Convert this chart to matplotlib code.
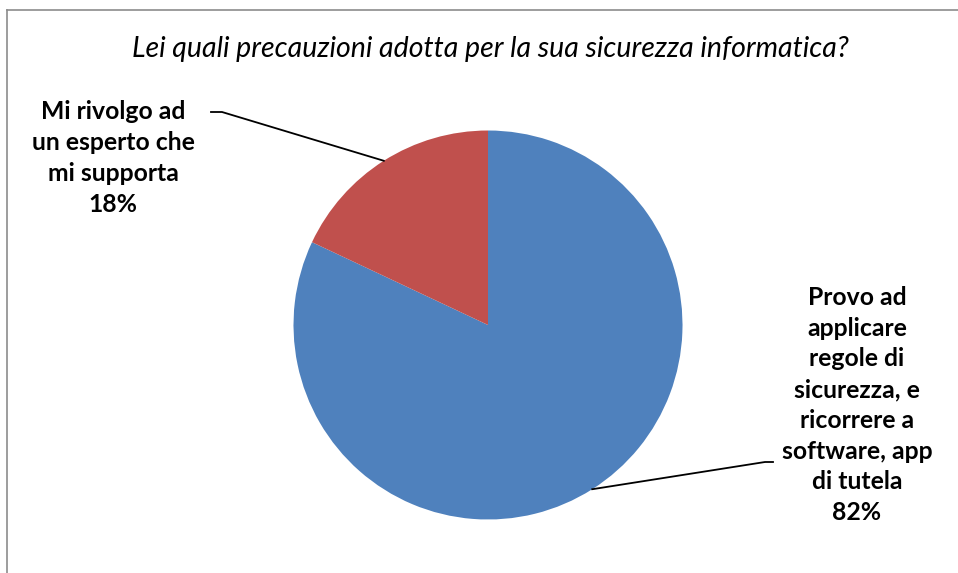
import numpy as np
import matplotlib
matplotlib.use("Agg")
import matplotlib.pyplot as plt
from matplotlib.lines import Line2D

title = "Lei quali precauzioni adotta per la sua sicurezza informatica?"
labels = ["Provo ad\napplicare\nregole di\nsicurezza, e\nricorrere a\nsoftware, app\ndi tutela",
          "Mi rivolgo ad\nun esperto che\nmi supporta"]
values = [82, 18]
colors = ["#4F81BD", "#C0504D"]

W, H = 958, 573
fig = plt.figure(figsize=(W / 100, H / 100), dpi=100)
plt.rcParams['font.family'] = ['Lato', 'DejaVu Sans']


def px(x, y):
    # image pixel -> figure fraction
    return x / W, 1 - y / H


# chart frame (left and top edges visible)
fig.add_artist(Line2D([7 / W, 7 / W], [0, 1 - 10 / H], color="#8c8c8c", lw=1.2))
fig.add_artist(Line2D([7 / W, 1], [1 - 10 / H, 1 - 10 / H], color="#8c8c8c", lw=1.2))

# pie axes centred at (488, 325), radius ~194 px
cx, cy, r = 488, 325, 194.5
ax = fig.add_axes([(cx - r) / W, (H - cy - r) / H, 2 * r / W, 2 * r / H])
wedges, _ = ax.pie(values, colors=colors, startangle=90, counterclock=False,
                   wedgeprops=dict(edgecolor="none"))
ax.set_xlim(-1, 1)
ax.set_ylim(-1, 1)
ax.set_aspect("equal")
ax.axis("off")

fig.text(*px(490, 49), title, ha="center", va="center", fontsize=20.5, style="italic")

# label text positions and leader anchors (image pixels)
label_pos = [(857, 405), (113, 158)]
leader_start = [((773, 462), (765, 462)), ((211, 112), (222, 112))]

for w, lab, v, pos, (a, b) in zip(wedges, labels, values, label_pos, leader_start):
    fig.text(*px(*pos), f"{lab}\n{v}%", ha="center", va="center", fontsize=17.8,
             fontweight="bold", linespacing=1.41)
    mid = np.deg2rad((w.theta1 + w.theta2) / 2)
    ex, ey = ax.transData.transform((np.cos(mid), np.sin(mid)))
    ex, ey = fig.transFigure.inverted().transform((ex, ey))
    fig.add_artist(Line2D([px(*a)[0], px(*b)[0], ex], [px(*a)[1], px(*b)[1], ey],
                          color="black", lw=1.3))

fig.savefig("out.png", dpi=100)
